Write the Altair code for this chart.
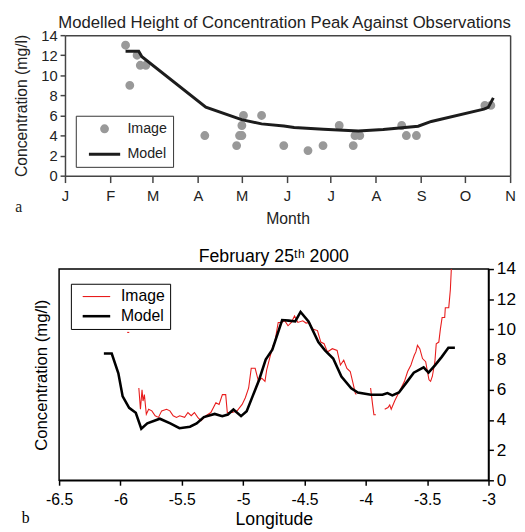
import altair as alt
import pandas as pd

FONT = "Liberation Sans"
SERIF = "Liberation Serif"
SERIES = ["Image", "Model"]

# ---------------- panel a : seasonal peak heights ----------------
month_labels = ["J", "F", "M", "A", "M", "J", "J", "A", "S", "O", "N"]
month_starts = [0, 31, 60, 91, 121, 152, 182, 213, 244, 274, 305]

obs_day = [41.5, 44.4, 49.4, 51.6, 55.4, 95.8, 117.6, 119.6, 121.2, 121.2, 122.3, 134.7,
           149.9, 166.5, 176.8, 187.9, 197.5, 198.7, 202.0, 230.7, 233.9, 240.8, 287.7, 291.8]
obs_conc = [13, 9, 12, 11, 11, 4, 3, 4, 4, 5, 6, 6,
            3, 2.5, 3, 5, 3, 4, 4, 5, 4, 4, 7, 7]

model_day = [41.5, 50.5, 52.7, 96.5, 121, 134.7, 150, 157, 177, 201, 218, 242, 251, 287, 290, 293.5]
model_conc = [12.4, 12.4, 11.85, 6.83, 5.58, 5.16, 4.95, 4.8, 4.62, 4.45, 4.6, 4.93, 5.4, 6.63, 6.8, 7.75]

# ---------------- panel b : transect, February 25th 2000 ----------------
img0_lon = [-5.945, -5.928]
img0_val = [9.8, 9.8]
img1_lon = [-5.85, -5.837, -5.824, -5.816, -5.805, -5.789, -5.77, -5.744, -5.717, -5.69, -5.664,
            -5.624, -5.597, -5.57, -5.543, -5.517, -5.477, -5.45, -5.423, -5.397, -5.37, -5.343,
            -5.303, -5.263, -5.222, -5.196, -5.169, -5.142, -5.129, -5.089, -5.049, -5.008, -4.982,
            -4.955, -4.934, -4.902, -4.875, -4.848, -4.822, -4.808, -4.781, -4.755, -4.741, -4.728,
            -4.714, -4.687, -4.661, -4.634, -4.607, -4.581, -4.554, -4.514, -4.487, -4.46, -4.434,
            -4.394, -4.367, -4.34, -4.313, -4.273, -4.234, -4.207, -4.18, -4.154, -4.127, -4.105,
            -4.086, -4.078]
img1_val = [6.12, 4.71, 6.0, 5.25, 5.68, 4.38, 4.71, 4.6, 4.28, 4.17, 4.6,
            4.71, 4.6, 4.28, 4.17, 4.28, 4.17, 4.49, 4.28, 4.49, 4.17, 3.95,
            4.28, 4.49, 5.14, 5.03, 5.68, 5.68, 4.49, 4.49, 4.6, 5.03, 5.47,
            6.12, 7.42, 7.42, 6.56, 6.77, 6.56, 7.31, 8.18, 8.94, 9.16, 9.81,
            10.46, 10.46, 10.57, 10.24, 10.46, 10.89, 10.46, 10.57, 10.42, 10.46, 10.03,
            9.92, 9.16, 9.05, 8.51, 8.72, 8.61, 7.64, 7.96, 7.42, 7.21, 6.45,
            5.79, 5.68]
img2_lon = [-3.961, -3.945, -3.934, -3.918]
img2_val = [6.12, 5.03, 4.34, 4.34]
img3_lon = [-3.846, -3.819, -3.805, -3.793, -3.765, -3.739, -3.712, -3.685, -3.659, -3.632,
            -3.619, -3.605, -3.592, -3.579, -3.56, -3.538, -3.512, -3.498, -3.485, -3.472,
            -3.458, -3.437, -3.426, -3.405, -3.392, -3.378, -3.357, -3.352, -3.324, -3.311, -3.303]
img3_val = [4.71, 4.82, 4.99, 4.71, 5.25, 5.68, 6.12, 6.56, 7.21, 7.64,
            7.96, 8.29, 8.51, 8.94, 8.72, 8.07, 7.86, 7.21, 6.66, 6.56,
            6.88, 7.86, 9.05, 9.16, 10.03, 10.79, 10.79, 11.44, 11.44, 12.63, 14.0]

mod_lon = [-6.135, -6.071, -6.017, -5.982, -5.929, -5.875, -5.830, -5.781, -5.679, -5.594, -5.519,
           -5.433, -5.379, -5.320, -5.232, -5.170, -5.124, -5.079, -5.017, -4.971, -4.923, -4.870,
           -4.816, -4.762, -4.682, -4.628, -4.575, -4.532, -4.467, -4.387, -4.333, -4.266, -4.199,
           -4.119, -4.065, -3.958, -3.864, -3.824, -3.784, -3.730, -3.663, -3.609, -3.529, -3.489,
           -3.435, -3.381, -3.327, -3.274]
mod_val = [8.4, 8.4, 7.09, 5.56, 4.8, 4.47, 3.42, 3.77, 4.08, 3.77, 3.45,
           3.55, 3.77, 4.19, 4.40, 4.25, 4.36, 4.69, 4.25, 4.58, 5.56, 6.65,
           8.0, 8.66, 10.62, 10.58, 10.53, 11.16, 10.53, 9.16, 8.61, 8.07, 6.87,
           6.1, 5.82, 5.67, 5.67, 5.78, 5.63, 5.82, 6.54, 7.13, 7.48, 7.13,
           7.63, 8.18, 8.79, 8.79]

lon_ticks = [-6.5, -6, -5.5, -5, -4.5, -4, -3.5, -3]
conc_ticks = [0, 2, 4, 6, 8, 10, 12, 14]

# ================= panel a =================
obs_df = pd.DataFrame({"day": obs_day, "conc": obs_conc, "series": "Image"})
moda_df = pd.DataFrame({"day": model_day, "conc": model_conc, "series": "Model"})
tag_a = pd.DataFrame({"tag": ["a"]})

xa_scale = alt.Scale(domain=[0, 305], range=[6, 459], nice=False, zero=False)
ya_scale = alt.Scale(domain=[0, 14], nice=False, zero=False)
label_expr = f"{month_labels}[indexof({month_starts}, datum.value)]"

ax_a = dict(labelFont=FONT, titleFont=FONT, labelColor="#222", titleColor="#222",
            domainColor="#444", tickColor="#444", domainWidth=1.5, tickWidth=1.5,
            grid=False, titleFontWeight="normal")

legend_a = alt.Legend(
    title=None, orient="none", legendX=17, legendY=82, fillColor="white",
    strokeColor="#333", padding=6, rowPadding=8, symbolSize=36, symbolStrokeWidth=3,
    symbolOffset=16, labelOffset=16, labelFont=FONT, labelFontSize=14.5, labelColor="#222",
    symbolOpacity=1,
)
color_a = alt.Scale(domain=SERIES, range=["#999999", "#1c1c1c"])
shape_a = alt.Scale(domain=SERIES, range=["circle", "M-5.3,0L5.3,0"])
stroke_a = alt.Scale(domain=SERIES, range=["#999999", "#1c1c1c"])

x_axis_a = alt.Axis(values=month_starts, labelExpr=label_expr, title="Month",
                    labelFontSize=15, titleFontSize=16, tickSize=7, labelPadding=6,
                    titlePadding=8, labelFlush=False, **ax_a)

pts_a = alt.Chart(obs_df).mark_point(filled=True, size=36, opacity=1, strokeWidth=3).encode(
    x=alt.X("day:Q", scale=xa_scale, axis=x_axis_a),
    y=alt.Y("conc:Q", scale=ya_scale,
            axis=alt.Axis(values=conc_ticks, title="Concentration (mg/l)", offset=-6,
                          labelFontSize=15, titleFontSize=16, tickSize=5, labelPadding=3,
                          titlePadding=11, **ax_a)),
    color=alt.Color("series:N", scale=color_a, legend=legend_a),
    shape=alt.Shape("series:N", scale=shape_a, legend=legend_a),
    stroke=alt.Stroke("series:N", scale=stroke_a, legend=legend_a),
)

line_a = alt.Chart(moda_df).mark_line(strokeWidth=3).encode(
    x=alt.X("day:Q", scale=xa_scale,
            axis=alt.Axis(orient="top", labels=False, ticks=False, title=None, **ax_a)),
    y=alt.Y("conc:Q", scale=ya_scale,
            axis=alt.Axis(orient="right", labels=False, ticks=False, title=None, **ax_a)),
    color=alt.Color("series:N", scale=color_a, legend=legend_a),
)

tag_a_mark = alt.Chart(tag_a).mark_text(font=SERIF, fontSize=16, color="#222").encode(
    text="tag:N", x=alt.value(-41), y=alt.value(175)
)

panel_a = alt.layer(pts_a, line_a, tag_a_mark).resolve_axis(
    x="independent", y="independent"
).properties(
    width=459, height=143,
    title=alt.TitleParams("Modelled Height of Concentration Peak Against Observations",
                          font=FONT, fontSize=17, fontWeight="normal", color="#222",
                          offset=-4, anchor="middle"),
)

# ================= panel b =================
img_df = pd.concat([
    pd.DataFrame({"lon": img0_lon, "val": img0_val, "seg": 0}),
    pd.DataFrame({"lon": img1_lon, "val": img1_val, "seg": 1}),
    pd.DataFrame({"lon": img2_lon, "val": img2_val, "seg": 2}),
    pd.DataFrame({"lon": img3_lon, "val": img3_val, "seg": 3}),
], ignore_index=True)
img_df["series"] = "Image"
modb_df = pd.DataFrame({"lon": mod_lon, "val": mod_val, "series": "Model", "seg": 9})
tag_b = pd.DataFrame({"tag": ["b"]})

xb_scale = alt.Scale(domain=[-6.5, -3], nice=False, zero=False)
yb_scale = alt.Scale(domain=[0, 14], nice=False, zero=False)
color_b = alt.Scale(domain=SERIES, range=["#e81c1c", "#000000"])
sw_b = alt.Scale(domain=SERIES, range=[1.1, 2.6])
ax_b = dict(labelFont=FONT, titleFont=FONT, labelColor="black", titleColor="black",
            domainColor="black", tickColor="black", domainWidth=1.5, tickWidth=1.5,
            grid=False, titleFontWeight="normal")
legend_b = alt.Legend(
    title=None, orient="none", legendX=12, legendY=15, fillColor="white",
    strokeColor="black", padding=5, rowPadding=4, symbolSize=100,
    symbolType="M-2.8,0L2.8,0", symbolOffset=13, labelOffset=17,
    labelFont=FONT, labelFontSize=16, labelColor="black",
)
x_axis_b = alt.Axis(values=lon_ticks, labelExpr="'' + datum.value", title="Longitude",
                    labelFontSize=16, titleFontSize=18, tickSize=5, labelPadding=7,
                    titlePadding=3, labelFlush=False, **ax_b)

img_line = alt.Chart(img_df).mark_line().encode(
    x=alt.X("lon:Q", scale=xb_scale, axis=x_axis_b),
    y=alt.Y("val:Q", scale=yb_scale,
            axis=alt.Axis(title="Concentration (mg/l)", labels=False, ticks=False, domain=False,
                          titleFontSize=17, titlePadding=9, **ax_b)),
    color=alt.Color("series:N", scale=color_b, legend=legend_b),
    strokeWidth=alt.StrokeWidth("series:N", scale=sw_b, legend=legend_b),
    detail="seg:N",
)

mod_line = alt.Chart(modb_df).mark_line().encode(
    x=alt.X("lon:Q", scale=xb_scale, axis=x_axis_b),
    y=alt.Y("val:Q", scale=yb_scale,
            axis=alt.Axis(orient="right", values=conc_ticks, title=None, labelFontSize=17.5,
                          tickSize=5, labelPadding=3, **ax_b)),
    color=alt.Color("series:N", scale=color_b, legend=legend_b),
    strokeWidth=alt.StrokeWidth("series:N", scale=sw_b, legend=legend_b),
)

tag_b_mark = alt.Chart(tag_b).mark_text(font=SERIF, fontSize=16, color="black").encode(
    text="tag:N", x=alt.value(-34), y=alt.value(253)
)

panel_b = alt.layer(img_line, mod_line, tag_b_mark).resolve_axis(
    y="independent"
).properties(
    width=437, height=215,
    view=alt.ViewBackground(stroke="black", strokeWidth=1.5),
    title=alt.TitleParams("February 25ᵗʰ 2000", font=FONT, fontSize=18,
                          fontWeight="normal", color="black", offset=-6, anchor="middle"),
)

chart = alt.vconcat(panel_a, panel_b, spacing=95, bounds="flush").resolve_scale(
    color="independent", shape="independent", stroke="independent", strokeWidth="independent"
).resolve_legend(
    color="independent", shape="independent", stroke="independent", strokeWidth="independent"
).properties(
    padding={"left": 5, "top": 1, "right": 0, "bottom": 0}
).configure_view(stroke="transparent")

chart.save("out.html", embed_options={"renderer": "svg", "actions": False})
